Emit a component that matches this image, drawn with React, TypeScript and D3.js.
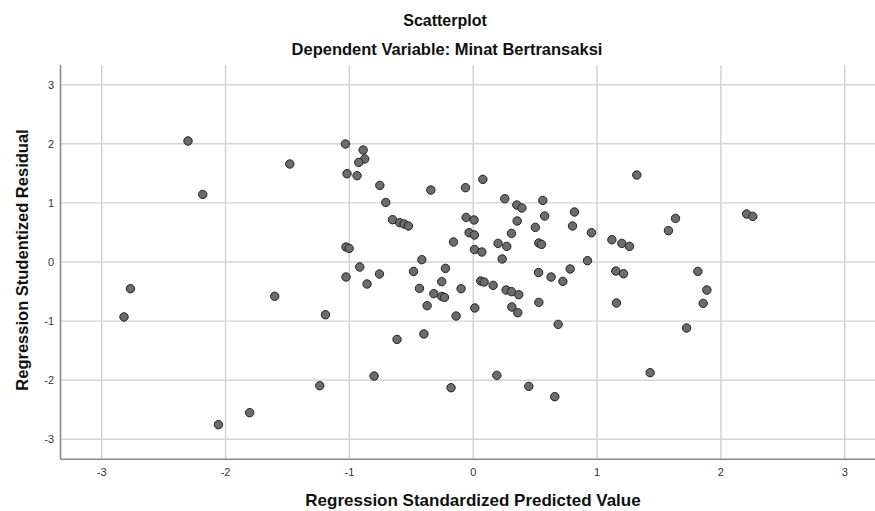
import React, { useEffect } from "react";
import * as d3 from "d3";

const titleMain = "Scatterplot";
const titleSub = "Dependent Variable: Minat Bertransaksi";
const xTitle = "Regression Standardized Predicted Value";
const yTitle = "Regression Studentized Residual";

const xTicks = [-3, -2, -1, 0, 1, 2, 3];
const yTicks = [-3, -2, -1, 0, 1, 2, 3];

const predicted = [
  -2.303, -2.184, -1.481, -2.768, -1.603, -2.82, -1.193, -2.057, -1.805, -1.239,
  -0.8, -0.615, -0.398, -0.372, -1.032, -0.889, -0.876, -0.924, -1.019, -0.938,
  -0.754, -0.342, -0.062, 0.078, -0.706, -0.652, -0.593, -0.558, -0.523, -0.057,
  0.007, -0.033, 0.01, -0.159, -1.027, -1.002, 0.01, 0.07, -0.415, 0.255,
  0.352, 0.393, 0.562, 0.818, 0.355, 0.577, 0.502, 0.802, 0.955, 1.12,
  1.2, 1.262, 0.309, 0.201, 0.271, 0.53, 0.552, 0.234, 0.923, 1.321,
  2.208, 2.258, 1.634, 1.577, 1.814, 1.887, 1.857, 1.723, 1.429, 1.152,
  1.214, 0.783, 0.724, 0.629, 0.528, -0.916, -1.027, -0.757, -0.857, -0.482,
  -0.224, -0.254, -0.434, -0.318, -0.254, -0.232, -0.098, 0.061, 0.088, 0.161,
  0.266, 0.309, 0.368, 0.53, 1.157, 0.013, 0.312, 0.36, 0.686, -0.138,
  -0.179, 0.191, 0.449, 0.659,
];

const residual = [
  2.047, 1.144, 1.658, -0.452, -0.58, -0.93, -0.892, -2.753, -2.55, -2.093,
  -1.93, -1.31, -1.218, -0.739, 1.997, 1.895, 1.743, 1.685, 1.494, 1.46,
  1.296, 1.218, 1.257, 1.398, 1.008, 0.716, 0.665, 0.643, 0.609, 0.755,
  0.711, 0.496, 0.457, 0.338, 0.254, 0.23, 0.21, 0.169, 0.039, 1.071,
  0.964, 0.914, 1.042, 0.846, 0.694, 0.778, 0.586, 0.609, 0.496, 0.377,
  0.315, 0.264, 0.484, 0.315, 0.264, 0.321, 0.298, 0.051, 0.022, 1.472,
  0.812, 0.772, 0.738, 0.53, -0.159, -0.474, -0.7, -1.117, -1.873, -0.153,
  -0.198, -0.118, -0.328, -0.254, -0.178, -0.085, -0.254, -0.203, -0.372, -0.159,
  -0.108, -0.333, -0.446, -0.536, -0.582, -0.599, -0.452, -0.322, -0.339, -0.395,
  -0.474, -0.502, -0.553, -0.683, -0.694, -0.778, -0.761, -0.858, -1.055, -0.914,
  -2.127, -1.918, -2.104, -2.279,
];

const W = 875;
const H = 511;
const plotLeft = 60.5;
const plotRight = 875;
const plotTop = 65;
const plotBottom = 459.3;

export default function App() {
  useEffect(() => {
    document.body.style.margin = "0";
  }, []);

  const x = d3.scaleLinear().domain([-3, 3]).range([101.7, 844.7]);
  const y = d3.scaleLinear().domain([-3, 3]).range([439.3, 84.7]);
  const font = "'Liberation Sans', Arial, sans-serif";

  const pts = predicted.map((p, i) => ({ p, r: residual[i] }));

  return (
    <svg
      width={W}
      height={H}
      style={{ position: "absolute", left: 0, top: 0, background: "#fff" }}
      fontFamily={font}
    >
      <rect x={0} y={0} width={W} height={H} fill="#fff" />
      {xTicks.map((t) => (
        <line
          key={"gx" + t}
          x1={x(t)}
          x2={x(t)}
          y1={plotTop}
          y2={plotBottom}
          stroke="#cfcfcf"
          strokeWidth={1.4}
        />
      ))}
      {yTicks.map((t) => (
        <line
          key={"gy" + t}
          x1={plotLeft}
          x2={plotRight}
          y1={y(t)}
          y2={y(t)}
          stroke="#d4d4d4"
          strokeWidth={1.4}
        />
      ))}
      <line x1={plotLeft} x2={plotLeft} y1={plotTop} y2={plotBottom} stroke="#8a8a8a" strokeWidth={1.6} />
      <line x1={plotLeft} x2={plotRight} y1={plotBottom} y2={plotBottom} stroke="#8a8a8a" strokeWidth={1.6} />
      {yTicks.map((t) => (
        <text
          key={"ty" + t}
          x={54}
          y={y(t)}
          dy="0.35em"
          textAnchor="end"
          fontSize={11}
          fill="#333"
        >
          {t}
        </text>
      ))}
      {xTicks.map((t) => (
        <text
          key={"tx" + t}
          x={x(t)}
          y={476}
          textAnchor="middle"
          fontSize={11}
          fill="#333"
        >
          {t}
        </text>
      ))}
      {pts.map((d, i) => (
        <circle
          key={i}
          cx={x(d.p)}
          cy={y(d.r)}
          r={4.2}
          fill="#6c6c6c"
          stroke="#222"
          strokeWidth={1}
        />
      ))}
      <text x={445} y={26} textAnchor="middle" fontSize={16} fontWeight="bold" fill="#111">
        {titleMain}
      </text>
      <text x={447} y={55} textAnchor="middle" fontSize={16.5} fontWeight="bold" fill="#111">
        {titleSub}
      </text>
      <text x={473} y={506} textAnchor="middle" fontSize={17} fontWeight="bold" fill="#111">
        {xTitle}
      </text>
      <text
        transform={`translate(28,260) rotate(-90)`}
        textAnchor="middle"
        fontSize={16.5}
        fontWeight="bold"
        fill="#111"
      >
        {yTitle}
      </text>
    </svg>
  );
}
